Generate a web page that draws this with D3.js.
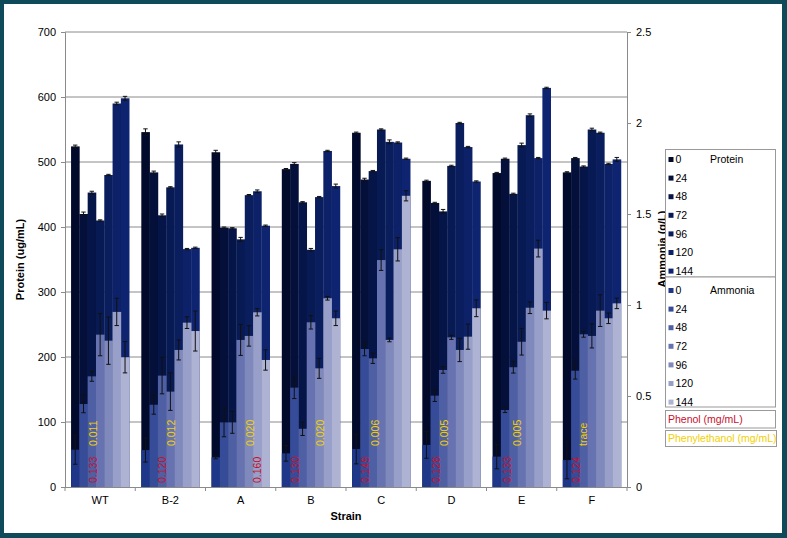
<!DOCTYPE html>
<html><head><meta charset="utf-8">
<script src="https://cdn.jsdelivr.net/npm/d3@7"></script>
<style>body{margin:0;background:#fff}svg{display:block;font-family:"Liberation Sans",Arial,sans-serif}</style>
</head><body><svg id="c" width="787" height="538"></svg>
<script>
const strains = ["WT","B-2","A","B","C","D","E","F"];
const times = ["0","24","48","72","96","120","144"];
const protein = [
  [524,420,453,410,480,590,598],
  [546,484,418,461,527,366,368],
  [515,399,398,381,449,455,402],
  [489,497,438,365,446,517,463],
  [545,473,486,550,531,530,505],
  [471,437,424,494,560,523,470],
  [483,505,451,526,572,506,614],
  [484,506,493,550,545,497,504]
];
const proteinErr = [
  [2,3,2,1,1,2,3],
  [5,2,2,1,4,1,1],
  [3,1,1,3,1,2,1],
  [1,2,1,2,1,1,3],
  [1,2,1,1,3,1,1],
  [1,1,3,1,1,1,1],
  [1,1,1,3,2,1,1],
  [1,1,1,2,1,1,3]
];
const ammonia = [
  [0.205,0.456,0.608,0.837,0.804,0.962,0.713],
  [0.203,0.452,0.612,0.524,0.753,0.903,0.857],
  [0.163,0.355,0.355,0.808,0.830,0.960,0.698],
  [0.185,0.546,0.320,0.905,0.652,1.037,0.927],
  [0.209,0.758,0.707,1.247,0.808,1.306,1.600],
  [0.231,0.502,0.643,0.822,0.753,0.826,0.982],
  [0.167,0.423,0.658,0.798,0.985,1.310,0.969],
  [0.148,0.639,0.839,0.830,0.969,0.927,1.009]
];
const ammoniaErr = [
  [0.080,0.048,0.027,0.116,0.130,0.075,0.086],
  [0.066,0.052,0.100,0.103,0.055,0.032,0.110],
  [0.008,0.079,0.060,0.085,0.056,0.020,0.056],
  [0.043,0.060,0.037,0.037,0.055,0.010,0.040],
  [0.082,0.037,0.028,0.057,0.010,0.064,0.028],
  [0.073,0.032,0.018,0.011,0.064,0.069,0.046],
  [0.067,0.014,0.032,0.073,0.032,0.046,0.045],
  [0.103,0.046,0.016,0.066,0.087,0.029,0.029]
];
const phenol = ["0.133","0.120","0.160","0.130","0.149","0.128","0.133","0.124"];
const phenylethanol = ["0.011","0.012","0.020","0.020","0.006","0.005","0.005","trace"];
const proteinTicks = [0,100,200,300,400,500,600,700];
const ammoniaTicks = [0,0.5,1,1.5,2,2.5];

// layout / style (not data)
const proteinColors = ["#020a2c","#04103a","#061547","#081a53","#0a1e5e","#0c2167","#0e2470"];
const ammoniaColors = ["#1e3789","#364c98","#4e5fa3","#6773b0","#8089bc","#989fc8","#aeb3d4"];
const phenolOffset = [28.5,26.8,51.5,20,19.5,20,21,20];
const pheOffset = [28,36,45,45,29,28,30.5,27];

const svg = d3.select("#c");
svg.append("rect").attr("width",787).attr("height",538).attr("fill","#0f4a5a");
svg.append("rect").attr("x",4).attr("y",4).attr("width",778).attr("height",529).attr("fill","#fff");

const L=65, R=627, T=32, B=487;
const x0 = d3.scaleBand().domain(strains).range([L,R]).padding(0);
const x1 = d3.scaleBand().domain(times).range([0,x0.bandwidth()]).paddingInner(0).paddingOuter(0.73);
const yP = d3.scaleLinear().domain([0,700]).range([B,T]);
const yA = d3.scaleLinear().domain([0,2.5]).range([B,T]);

// gridlines
svg.append("g").selectAll("line").data(proteinTicks.filter(d=>d>0)).join("line")
  .attr("x1",L).attr("x2",R).attr("y1",d=>yP(d)).attr("y2",d=>yP(d))
  .attr("stroke","#8a8a8a").attr("stroke-width",1);

const groups = svg.append("g").selectAll("g").data(strains).join("g")
  .attr("transform",s=>`translate(${x0(s)},0)`);

// protein bars
groups.selectAll("rect.p").data((s,i)=>protein[i].map((v,j)=>({v,j,e:proteinErr[i][j]}))).join("rect")
  .attr("class","p").attr("x",d=>x1(times[d.j])).attr("width",x1.bandwidth()+0.3)
  .attr("y",d=>yP(d.v)).attr("height",d=>B-yP(d.v)).attr("fill",d=>proteinColors[d.j]);
// ammonia bars
groups.selectAll("rect.a").data((s,i)=>ammonia[i].map((v,j)=>({v,j,e:ammoniaErr[i][j]}))).join("rect")
  .attr("class","a").attr("x",d=>x1(times[d.j])).attr("width",x1.bandwidth()+0.3)
  .attr("y",d=>yA(d.v)).attr("height",d=>B-yA(d.v)).attr("fill",d=>ammoniaColors[d.j]);

function errBars(sel, cls, arr, errArr, y){
  const g = sel.selectAll("g."+cls).data((s,i)=>arr[i].map((v,j)=>({v,j,e:errArr[i][j]}))).join("g").attr("class",cls)
    .attr("stroke","#111").attr("stroke-width",1);
  const cx = d=>x1(times[d.j])+x1.bandwidth()/2;
  g.append("line").attr("x1",cx).attr("x2",cx).attr("y1",d=>y(d.v+d.e)).attr("y2",d=>y(d.v-d.e));
  g.append("line").attr("x1",d=>cx(d)-2.2).attr("x2",d=>cx(d)+2.2).attr("y1",d=>y(d.v+d.e)).attr("y2",d=>y(d.v+d.e));
  g.append("line").attr("x1",d=>cx(d)-2.2).attr("x2",d=>cx(d)+2.2).attr("y1",d=>y(d.v-d.e)).attr("y2",d=>y(d.v-d.e));
}
errBars(groups,"ep",protein,proteinErr,yP);
errBars(groups,"ea",ammonia,ammoniaErr,yA);

// rotated labels
groups.append("text").attr("transform",(s,i)=>`translate(${phenolOffset[i]},483) rotate(-90)`)
  .attr("dy","0.35em").attr("font-size","10.5px").attr("fill","#c8102e").text((s,i)=>phenol[i]);
groups.append("text").attr("transform",(s,i)=>`translate(${pheOffset[i]},446) rotate(-90)`)
  .attr("dy","0.35em").attr("font-size","10.5px").attr("fill","#f2d000").text((s,i)=>phenylethanol[i]);

// axes
const axL = svg.append("g").attr("transform",`translate(${L},0)`)
  .call(d3.axisLeft(yP).tickValues(proteinTicks).tickSize(4).tickPadding(5));
const axR = svg.append("g").attr("transform",`translate(${R},0)`)
  .call(d3.axisRight(yA).tickValues(ammoniaTicks).tickFormat(d=>d).tickSize(4).tickPadding(5));
const axB = svg.append("g").attr("transform",`translate(0,${B})`)
  .call(d3.axisBottom(x0).tickSize(0).tickPadding(9));
[axL,axR,axB].forEach(a=>{
  a.selectAll("path,line").attr("stroke","#8a8a8a");
  a.selectAll("text").attr("font-size","11px").attr("fill","#000").attr("font-family","Liberation Sans, Arial, sans-serif");
});
axB.select(".domain").attr("d",`M${L},0.5H${R}`);
svg.append("g").selectAll("line").data(d3.range(strains.length+1)).join("line")
  .attr("x1",i=>L+i*x0.step()).attr("x2",i=>L+i*x0.step()).attr("y1",B).attr("y2",B+4)
  .attr("stroke","#8a8a8a");

svg.append("text").attr("transform",`translate(24,${(T+B)/2}) rotate(-90)`).attr("text-anchor","middle")
  .attr("font-size","11px").attr("font-weight","bold").text("Protein (ug/mL)");
svg.append("text").attr("transform",`translate(666,249) rotate(-90)`).attr("text-anchor","middle")
  .attr("font-size","11px").attr("font-weight","bold").text("Ammonia (g/L)");
svg.append("text").attr("x",(L+R)/2).attr("y",520).attr("text-anchor","middle")
  .attr("font-size","11px").attr("font-weight","bold").text("Strain");

// legend
const lg = svg.append("g");
function legendBox(y0,h,title,colors,itemY0){
  lg.append("rect").attr("x",665.5).attr("y",y0).attr("width",110).attr("height",h).attr("fill","#fff").attr("stroke","#999");
  lg.append("text").attr("x",710).attr("y",itemY0).attr("dy","0.35em").attr("font-size","10.5px").text(title);
  times.forEach((t,j)=>{
    const yy = itemY0 + j*18.6;
    lg.append("rect").attr("x",668.5).attr("y",yy-2.5).attr("width",5).attr("height",5).attr("fill",colors[j]);
    lg.append("text").attr("x",675.5).attr("y",yy).attr("dy","0.35em").attr("font-size","10.5px").text(t);
  });
}
legendBox(149.5,127.5,"Protein",proteinColors,159.5);
legendBox(277,130,"Ammonia",ammoniaColors,290.5);
lg.append("rect").attr("x",665.5).attr("y",410.5).attr("width",110).attr("height",17.5).attr("fill","#fff").attr("stroke","#999");
lg.append("text").attr("x",668).attr("y",419.5).attr("dy","0.35em").attr("font-size","10.5px").attr("fill","#c8102e").text("Phenol (mg/mL)");
lg.append("rect").attr("x",665.5).attr("y",430.5).attr("width",111).attr("height",16).attr("fill","#fff").attr("stroke","#999");
lg.append("text").attr("x",668).attr("y",438.5).attr("dy","0.35em").attr("font-size","10.5px").attr("fill","#f2d000").text("Phenylethanol (mg/mL)");
</script></body></html>
